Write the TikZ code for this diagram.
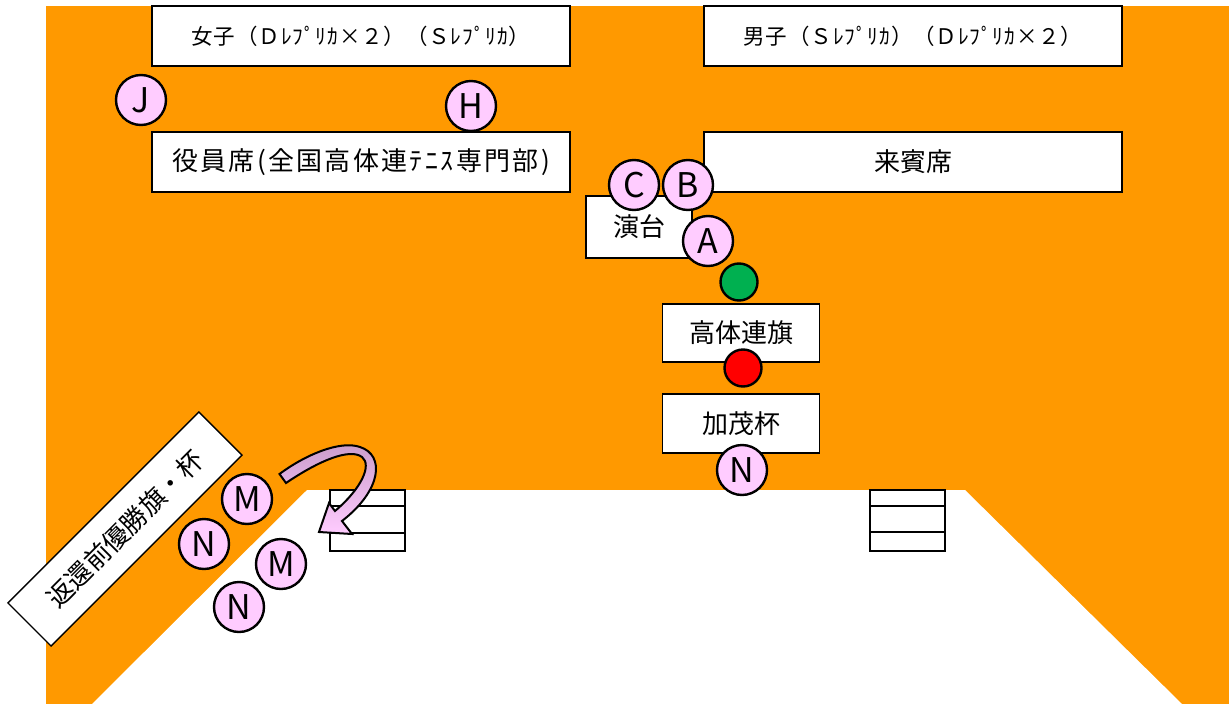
\documentclass[tikz,border=0pt]{standalone}
\usepackage{fontspec}
\setmainfont{Noto Sans CJK JP}
\definecolor{floorc}{HTML}{FF9900}
\definecolor{pinkc}{HTML}{FFCCFF}
\definecolor{grnc}{HTML}{00B050}
\definecolor{redc}{HTML}{FF0000}
\definecolor{arrdark}{HTML}{C99BC9}
\begin{document}
\begin{tikzpicture}[x=1pt,y=-1pt,
  box/.style={draw=black, line width=1.3pt, fill=white, inner sep=0pt, font=\fontsize{26}{30}\selectfont},
  topbox/.style={box, font=\fontsize{21.5}{24}\selectfont\addfontfeature{LetterSpace=4}},
  lbl/.style={circle, draw=black, line width=2.4pt, fill=pinkc, minimum size=50pt, inner sep=0pt, font=\fontsize{34}{36}\selectfont},
  dot/.style={circle, draw=black, line width=2.4pt, minimum size=37pt, inner sep=0pt},
  stairs/.style={draw=black, line width=2.5pt, fill=white}]
\useasboundingbox (0,0) rectangle (1229,704);
% floor
\fill[floorc] (46,6) rectangle (1229,704);
\fill[white] (92,704) -- (307,490) -- (965,490) -- (1182,704) -- cycle;
% boxes
\node[topbox, minimum width=418pt, minimum height=60pt] (women) at (361,36) {\raisebox{-3pt}{女子（Ｄﾚﾌﾟﾘｶ×２）（Ｓﾚﾌﾟﾘｶ）}};
\node[topbox, minimum width=418pt, minimum height=60pt] (men) at (913,36) {\raisebox{-3pt}{男子（Ｓﾚﾌﾟﾘｶ）（Ｄﾚﾌﾟﾘｶ×２）}};
\node[box, minimum width=418pt, minimum height=60pt] (officials) at (361,162) {\raisebox{-3pt}{\addfontfeature{LetterSpace=9}役員席(全国高体連ﾃﾆｽ専門部)}};
\node[box, minimum width=418pt, minimum height=60pt] (guests) at (913,162) {\raisebox{-2pt}{来賓席}};
\node[box, minimum width=106pt, minimum height=62pt] (podium) at (639,227) {\raisebox{-2pt}{演台}};
\node[box, minimum width=157pt, minimum height=58pt] (flag) at (741,333) {\raisebox{-4pt}{高体連旗}};
\node[box, minimum width=157pt, minimum height=59pt] (cup) at (741,423.5) {\raisebox{-4pt}{加茂杯}};
\node[box, rotate=45, minimum width=270pt, minimum height=61pt] (former) at (125,529) {返還前優勝旗・杯};
% stairs
\draw[stairs] (330,490) rectangle (405,551);
\draw[line width=2.5pt] (330,506) -- (405,506) (330,533) -- (405,533);
\draw[stairs] (870,490) rectangle (945,551);
\draw[line width=2.5pt] (870,506) -- (945,506) (870,532) -- (945,532);
% curved arrow
\draw[line width=2pt, black, line join=miter, top color=arrdark, bottom color=pinkc]
  (279.5,474) .. controls (305,455) and (340,440) .. (360,447)
  .. controls (385,455) and (382,490) .. (342,521)
  -- (352,534) -- (319,532) -- (329,503) -- (335,511)
  .. controls (362,488) and (372,465) .. (362,457)
  .. controls (350,448) and (320,460) .. (286,483) -- cycle;
% markers
\node[lbl] (J) at (141,100) {J};
\node[lbl] (H) at (471,106) {H};
\node[lbl] (C) at (634,185) {C};
\node[lbl] (B) at (688,185) {B};
\node[lbl] (A) at (708,241) {A};
\node[dot, fill=grnc] (green) at (739,282) {};
\node[dot, fill=redc] (red) at (743,368) {};
\node[lbl] (N0) at (742,470) {N};
\node[lbl] (M1) at (247,499) {M};
\node[lbl] (N1) at (204,544) {N};
\node[lbl] (M2) at (281,564) {M};
\node[lbl] (N2) at (239,607) {N};
\end{tikzpicture}
\end{document}
